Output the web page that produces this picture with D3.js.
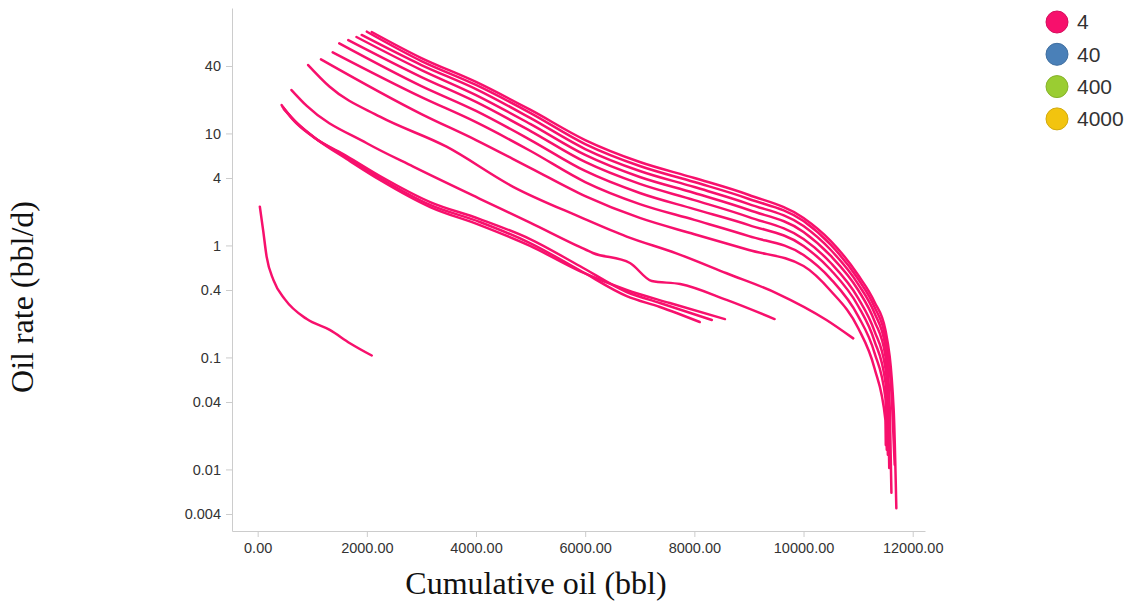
<!DOCTYPE html>
<html>
<head>
<meta charset="utf-8">
<script src="https://cdn.jsdelivr.net/npm/d3@7"></script>
<style>
  body { margin: 0; background: #fff; }
  .axis path, .axis line { stroke: #ccc; }
  .axis text { fill: #333; font-family: "Liberation Sans", Arial, sans-serif; font-size: 14.5px; }
</style>
</head>
<body>
<script>
var w = 1131;
var h = 609;

// legend series
var seriesNames = ["4", "40", "400", "4000"];
var seriesColors = ["#f7106c", "#4a80b8", "#9acd32", "#f2c40f"];

// axis ticks
var xTicks = [0, 2000, 4000, 6000, 8000, 10000, 12000];
var yTicks = [0.004, 0.01, 0.04, 0.1, 0.4, 1, 4, 10, 40];

// cumulative oil (bbl) and oil rate (bbl/d), one pair per well (all series "4")
var cum01 = [40, 100, 165, 290, 500, 900, 1320, 1690, 2090];
var rate01 = [2.22, 1.37, 0.79, 0.49, 0.33, 0.22, 0.176, 0.134, 0.104];

var cum02 = [440, 650, 1020, 1630, 2240, 3160, 4070, 4990, 5900, 6760, 7370, 8100];
var rate02 = [17.9, 13.2, 9.3, 6.16, 4.0, 2.30, 1.62, 1.05, 0.60, 0.353, 0.282, 0.207];

var cum03 = [460, 680, 1050, 1630, 2240, 3160, 4070, 4990, 5900, 6760, 7370, 8320];
var rate03 = [17.2, 12.9, 9.1, 6.29, 4.17, 2.44, 1.72, 1.14, 0.655, 0.384, 0.306, 0.216];

var cum04 = [480, 720, 1100, 1630, 2240, 3160, 4070, 4990, 5900, 6760, 7550, 8560];
var rate04 = [16.5, 12.4, 8.73, 5.91, 3.84, 2.20, 1.52, 0.99, 0.59, 0.40, 0.306, 0.220];

var cum05 = [620, 900, 2000, 2850, 4070, 4990, 5900, 6140, 6820, 7220, 7740, 8590, 9470];
var rate05 = [24.4, 17.6, 8.17, 5.05, 2.61, 1.60, 0.97, 0.856, 0.697, 0.481, 0.452, 0.326, 0.220];

var cum06 = [925, 1320, 2240, 3460, 4680, 5900, 6760, 7670, 8590, 9510, 10420, 10910];
var rate06 = [40.8, 26.1, 14.1, 7.61, 3.34, 1.80, 1.20, 0.85, 0.564, 0.374, 0.216, 0.148];

var cum07 = [2090, 3000, 4000, 5000, 6000, 7000, 8000, 9000, 10000, 10500, 11000, 11300, 11500, 11650, 11700];
var rate07 = [80.5, 47.1, 28.8, 16.2, 8.73, 5.56, 4.0, 2.82, 1.76, 1.095, 0.544, 0.313, 0.176, 0.035, 0.0045];

var cum08 = [2000, 3000, 4000, 5000, 6000, 7000, 8000, 9000, 10000, 10500, 11000, 11300, 11500, 11620, 11670];
var rate08 = [81, 44.3, 27.1, 15.2, 8.04, 5.12, 3.68, 2.60, 1.65, 1.01, 0.501, 0.282, 0.149, 0.04, 0.011];

var cum09 = [1905, 3000, 4000, 5000, 6000, 7000, 8000, 9000, 10000, 10500, 11000, 11300, 11500, 11580, 11610];
var rate09 = [75.7, 40.8, 24.9, 13.7, 7.26, 4.62, 3.32, 2.34, 1.49, 0.91, 0.452, 0.249, 0.126, 0.035, 0.0062];

var cum10 = [1810, 3000, 4000, 5000, 6000, 7000, 8000, 9000, 10000, 10500, 11000, 11300, 11500, 11550, 11570];
var rate10 = [72.6, 36.8, 22.0, 12.1, 6.42, 4.08, 2.94, 2.07, 1.32, 0.805, 0.40, 0.211, 0.103, 0.04, 0.0103];

var cum11 = [1660, 3000, 4000, 5000, 6000, 7000, 8000, 9000, 10000, 10500, 11000, 11300, 11500, 11560, 11580];
var rate11 = [68.2, 31.9, 19.1, 10.5, 5.56, 3.54, 2.54, 1.79, 1.14, 0.697, 0.339, 0.172, 0.080, 0.035, 0.018];

var cum12 = [1495, 3000, 4000, 5000, 6000, 7000, 8000, 9000, 10000, 10500, 11000, 11300, 11500, 11530, 11545];
var rate12 = [63.8, 26.5, 15.9, 8.73, 4.62, 2.94, 2.11, 1.52, 0.99, 0.603, 0.288, 0.140, 0.060, 0.03, 0.0135];

var cum13 = [1375, 3000, 4000, 5000, 6000, 7000, 8000, 9000, 10000, 10500, 11000, 11300, 11500, 11515, 11525];
var rate13 = [53, 21.1, 12.6, 6.97, 3.68, 2.34, 1.69, 1.21, 0.82, 0.501, 0.234, 0.110, 0.0434, 0.025, 0.015];

var cum14 = [1160, 3000, 4000, 5000, 6000, 7000, 8000, 9000, 10000, 10500, 11000, 11300, 11500, 11507];
var rate14 = [45.9, 14.9, 8.73, 4.91, 2.76, 1.76, 1.26, 0.91, 0.655, 0.392, 0.183, 0.080, 0.0276, 0.0165];

var wells = [
    [cum01, rate01], [cum02, rate02], [cum03, rate03], [cum04, rate04],
    [cum05, rate05], [cum06, rate06], [cum07, rate07], [cum08, rate08],
    [cum09, rate09], [cum10, rate10], [cum11, rate11], [cum12, rate12],
    [cum13, rate13], [cum14, rate14]
].map(function(p) {
    return p[0].map(function(c, i) { return {cum: c, rate: p[1][i]}; });
});

var svg = d3.select("body")
    .append("svg")
    .attr("width", w)
    .attr("height", h);

var x = d3.scaleLinear()
    .domain([-470, 12225])
    .range([232, 925]);

var y = d3.scaleLog()
    .domain([0.00282, 131.8])
    .range([531, 8]);

svg.append("g")
    .attr("class", "axis")
    .attr("transform", "translate(0,531)")
    .call(d3.axisBottom(x).tickValues(xTicks).tickFormat(d3.format(".2f")).tickSizeOuter(0).tickPadding(6));

svg.append("g")
    .attr("class", "axis")
    .attr("transform", "translate(232,0)")
    .call(d3.axisLeft(y).tickValues(yTicks).tickFormat(function(d) { return String(d); }).tickSizeOuter(0).tickPadding(5));

var line = d3.line()
    .curve(d3.curveMonotoneX)
    .x(function(d) { return x(d.cum); })
    .y(function(d) { return y(d.rate); });

svg.append("g")
    .selectAll("path")
    .data(wells)
    .enter().append("path")
    .attr("d", line)
    .attr("fill", "none")
    .attr("stroke", seriesColors[0])
    .attr("stroke-width", 2.5)
    .attr("stroke-linejoin", "round")
    .attr("stroke-linecap", "round");

// axis titles
svg.append("text")
    .attr("x", 536)
    .attr("y", 594)
    .attr("text-anchor", "middle")
    .style("font-family", "'Liberation Serif', 'Times New Roman', serif")
    .style("font-size", "32px")
    .style("fill", "#111")
    .text("Cumulative oil (bbl)");

svg.append("text")
    .attr("transform", "translate(33,297) rotate(-90)")
    .attr("text-anchor", "middle")
    .style("font-family", "'Liberation Serif', 'Times New Roman', serif")
    .style("font-size", "32px")
    .style("fill", "#111")
    .text("Oil rate (bbl/d)");

// legend
var legend = svg.append("g")
    .selectAll("g")
    .data(seriesNames)
    .enter().append("g")
    .attr("transform", function(d, i) { return "translate(1057," + (22 + i * 32.3) + ")"; });

legend.append("circle")
    .attr("r", 11)
    .attr("fill", function(d, i) { return seriesColors[i]; })
    .attr("stroke", function(d, i) { return d3.color(seriesColors[i]).darker(0.4); })
    .attr("stroke-width", 1);

legend.append("text")
    .attr("x", 20)
    .attr("dy", "0.35em")
    .style("font-family", "'Liberation Sans', Arial, sans-serif")
    .style("font-size", "21px")
    .style("fill", "#333")
    .text(function(d) { return d; });
</script>
</body>
</html>
